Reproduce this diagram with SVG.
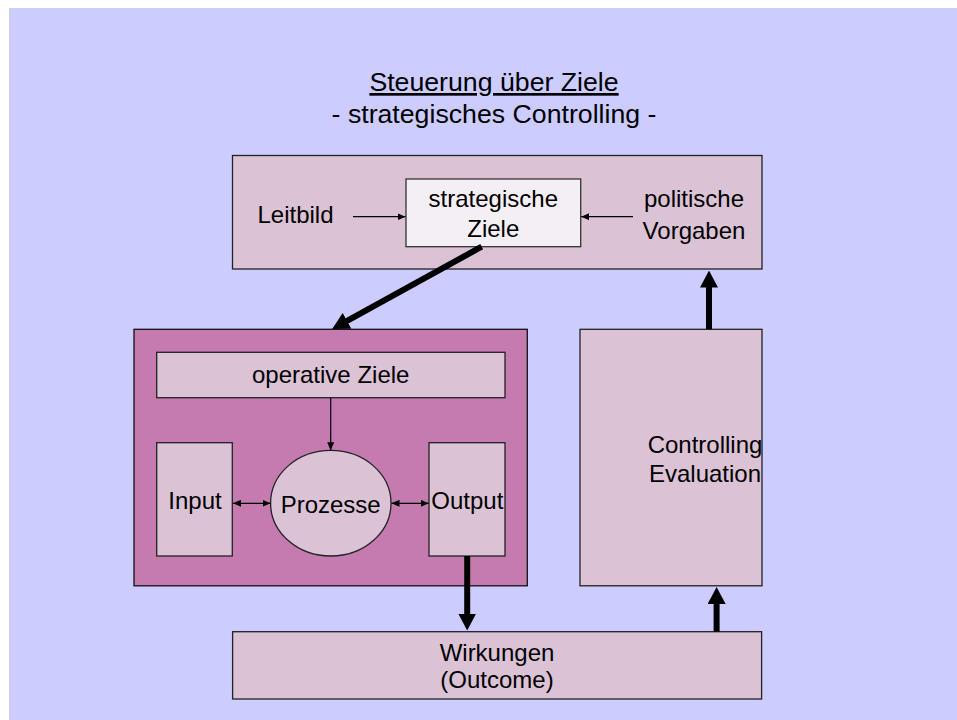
<svg xmlns="http://www.w3.org/2000/svg" width="957" height="720" viewBox="0 0 957 720">
<style>
text{font-family:"Liberation Sans",Arial,sans-serif;fill:#000;text-anchor:middle}
.t{font-size:26.7px}
.b{font-size:24px}
.box{fill:#DBC2D5;stroke:#222;stroke-width:1.3}
.purple{fill:#C57AB0;stroke:#111;stroke-width:1.3}
.light{fill:#F4EFF5;stroke:#333;stroke-width:1.3}
.thin{stroke:#000;stroke-width:1.2;fill:none}
.thick{stroke:#000;stroke-width:6;fill:none}
</style>
<defs>
<marker id="ah" markerUnits="userSpaceOnUse" viewBox="0 0 8 7" markerWidth="8" markerHeight="7" refX="8" refY="3.5" orient="auto-start-reverse"><path d="M0,0 L8,3.5 L0,7 z" fill="#000"/></marker>
<marker id="big" markerUnits="userSpaceOnUse" viewBox="0 0 17 18" markerWidth="17" markerHeight="18" refX="0.5" refY="9" orient="auto"><path d="M0,0 L17,9 L0,18 z" fill="#000"/></marker>
</defs>
<rect x="0" y="0" width="957" height="720" fill="#fff"/>
<rect x="9" y="8" width="948" height="712" fill="#CCCCFF"/>
<g id="title">
<text class="t" x="494" y="91" text-decoration="underline">Steuerung über Ziele</text>
<text class="t" x="494" y="123">- strategisches Controlling -</text>
</g>
<g id="top">
<rect class="box" x="232.5" y="155.5" width="529.5" height="113.5"/>
</g>
<g id="leitbild"><text class="b" x="295.5" y="222.5">Leitbild</text></g>
<g id="strategische">
<rect class="light" x="406" y="179" width="174.7" height="67.7"/>
<text class="b" x="493.3" y="207">strategische</text>
<text class="b" x="493.3" y="237">Ziele</text>
</g>
<g id="politische">
<text class="b" x="694" y="207">politische</text>
<text class="b" x="694" y="239">Vorgaben</text>
</g>
<g id="operativ">
<rect class="purple" x="134" y="329.3" width="393.3" height="256.5"/>
</g>
<g id="operativeZiele">
<rect class="box" x="156.7" y="352.3" width="348.3" height="45.4"/>
<text class="b" x="330.7" y="383.3">operative Ziele</text>
</g>
<g id="input">
<rect class="box" x="156.7" y="442.7" width="75.6" height="113.3"/>
<text class="b" x="195" y="508.7">Input</text>
</g>
<g id="prozesse">
<ellipse class="box" cx="330.8" cy="503.2" rx="60.2" ry="52.8"/>
<text class="b" x="330.7" y="512.7">Prozesse</text>
</g>
<g id="output">
<rect class="box" x="429" y="442.7" width="76" height="113.3"/>
<text class="b" x="467.3" y="508.7">Output</text>
</g>
<g id="controlling">
<rect class="box" x="580" y="329.3" width="182" height="256.5"/>
<text class="b" x="705" y="453.3">Controlling</text>
<text class="b" x="705" y="482.3">Evaluation</text>
</g>
<g id="wirkungen">
<rect class="box" x="232.6" y="631.7" width="529" height="67.3"/>
<text class="b" x="497" y="660.7">Wirkungen</text>
<text class="b" x="497" y="688.3">(Outcome)</text>
</g>
<g id="connectors">
<line class="thin" x1="353" y1="216.7" x2="405.5" y2="216.7" marker-end="url(#ah)"/>
<line class="thin" x1="633" y1="216.7" x2="581.2" y2="216.7" marker-end="url(#ah)"/>
<line class="thin" x1="330.7" y1="397.7" x2="330.7" y2="450.3" marker-end="url(#ah)"/>
<line class="thin" x1="233" y1="503.3" x2="270.5" y2="503.3" marker-start="url(#ah)" marker-end="url(#ah)"/>
<line class="thin" x1="391.5" y1="503.3" x2="428.7" y2="503.3" marker-start="url(#ah)" marker-end="url(#ah)"/>
<line class="thick" x1="481.7" y1="246.7" x2="346.6" y2="321.1" marker-end="url(#big)"/>
<line class="thick" x1="467.2" y1="556" x2="467.2" y2="614" marker-end="url(#big)"/>
<line class="thick" x1="716.6" y1="631.7" x2="716.6" y2="603.5" marker-end="url(#big)"/>
<line class="thick" x1="709" y1="329.3" x2="709" y2="287" marker-end="url(#big)"/>
</g>
</svg>
